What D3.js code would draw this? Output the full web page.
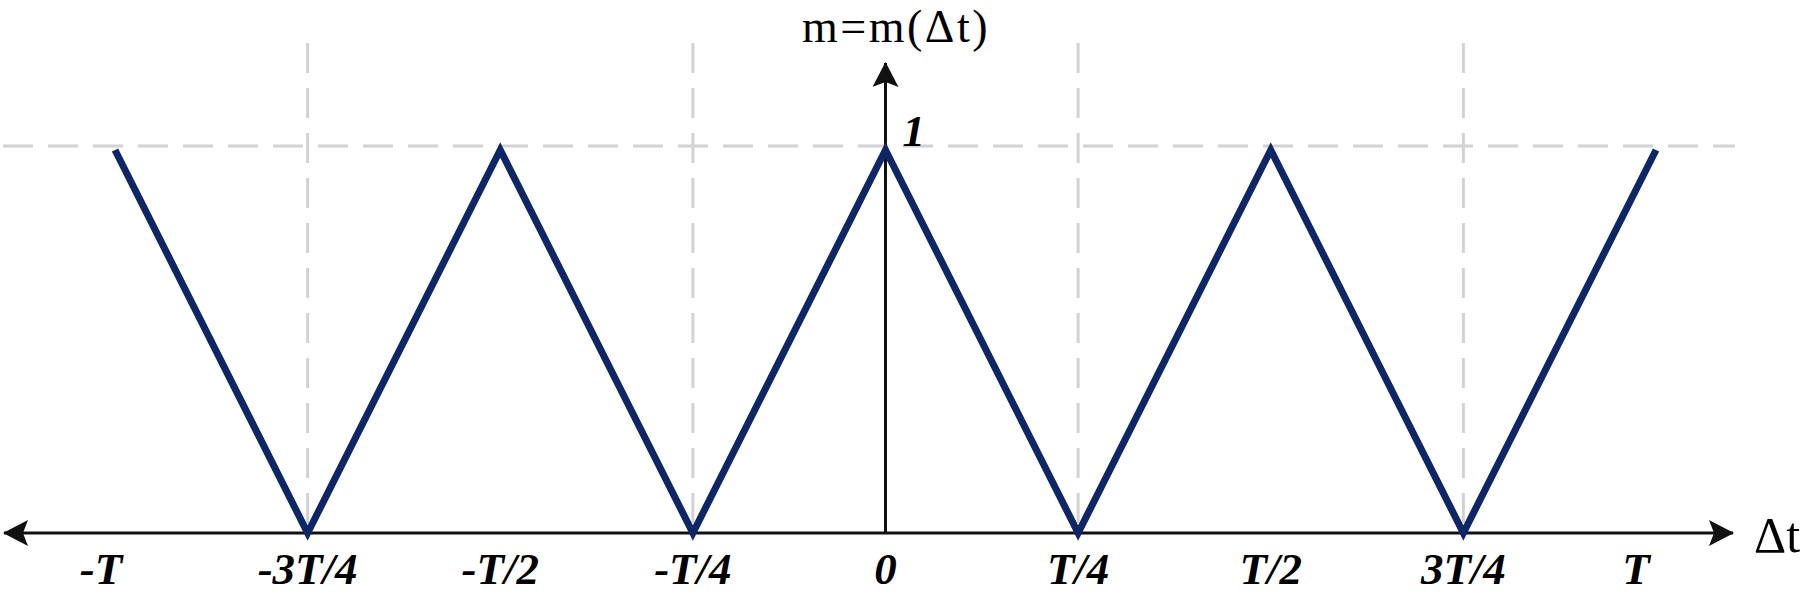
<!DOCTYPE html>
<html>
<head>
<meta charset="utf-8">
<script src="https://cdn.jsdelivr.net/npm/d3@7"></script>
<style>
  html, body { margin: 0; padding: 0; background: #fff; }
  svg { display: block; }
  .grid { stroke: #d2d2d2; stroke-width: 3; stroke-dasharray: 30 15; fill: none; }
  .axis { stroke: #111; stroke-width: 3; fill: none; }
  .wave { stroke: #0e2566; stroke-width: 7; fill: none; stroke-linejoin: miter; }
  .tick { font-family: "Liberation Serif", "Times New Roman", serif; font-weight: bold; font-style: italic; font-size: 45px; fill: #000; }
  .title { font-family: "Liberation Serif", "Times New Roman", serif; font-size: 50px; fill: #000; }
  .title.top { font-size: 46px; letter-spacing: 2.5px; }
</style>
</head>
<body>
<svg width="1808" height="594"></svg>
<script>
const width = 1808;
const height = 594;
const svg = d3.select("svg");

// data: quarter-period positions (in units of T) and the triangle wave m(dt)
const waveX = [-1, -0.75, -0.5, -0.25, 0, 0.25, 0.5, 0.75, 1];
const waveY = [1, 0, 1, 0, 1, 0, 1, 0, 1];
const tickValues = [-1, -0.75, -0.5, -0.25, 0, 0.25, 0.5, 0.75, 1];
const tickLabels = ["-T", "-3T/4", "-T/2", "-T/4", "0", "T/4", "T/2", "3T/4", "T"];
const gridX = [-0.75, -0.25, 0.25, 0.75];

const x = d3.scaleLinear().domain([-1, 1]).range([115, 1656]);
const y = d3.scaleLinear().domain([0, 1]).range([533, 150]);

// arrow heads
const defs = svg.append("defs");
defs.append("marker")
    .attr("id", "arrow")
    .attr("viewBox", "0 -13 25 26")
    .attr("refX", 24)
    .attr("refY", 0)
    .attr("markerWidth", 25)
    .attr("markerHeight", 26)
    .attr("markerUnits", "userSpaceOnUse")
    .attr("orient", "auto-start-reverse")
    .append("path")
    .attr("d", "M0,-13L25,0L0,13L5,0Z")
    .attr("fill", "#111");

// dashed guides
svg.append("line")
    .attr("class", "grid")
    .attr("x1", 3).attr("x2", 1735)
    .attr("y1", y(1) - 4).attr("y2", y(1) - 4);

svg.selectAll(".gridv")
    .data(gridX)
    .enter()
    .append("line")
    .attr("class", "grid")
    .attr("x1", d => x(d)).attr("x2", d => x(d))
    .attr("y1", 43).attr("y2", y(0));

// axes
svg.append("line")
    .attr("class", "axis")
    .attr("x1", 4).attr("x2", 1733)
    .attr("y1", y(0)).attr("y2", y(0))
    .attr("marker-start", "url(#arrow)")
    .attr("marker-end", "url(#arrow)");

svg.append("line")
    .attr("class", "axis")
    .attr("x1", x(0)).attr("x2", x(0))
    .attr("y1", y(0)).attr("y2", 63)
    .attr("marker-end", "url(#arrow)");

// the triangle wave
const line = d3.line()
    .x(d => x(d[0]))
    .y(d => y(d[1]));

svg.append("path")
    .datum(waveX.map((v, i) => [v, waveY[i]]))
    .attr("class", "wave")
    .attr("d", line);

// tick labels
svg.selectAll(".tick")
    .data(tickValues)
    .enter()
    .append("text")
    .attr("class", "tick")
    .attr("x", (d, i) => x(d) + (d === -1 ? -14 : d === 1 ? -20 : 0))
    .attr("y", 584)
    .attr("text-anchor", "middle")
    .text((d, i) => tickLabels[i]);

svg.append("text")
    .attr("class", "tick")
    .attr("x", x(0) + 17)
    .attr("y", y(1) - 4)
    .text("1");

// axis titles
svg.append("text")
    .attr("class", "title top")
    .attr("x", 896)
    .attr("y", 42)
    .attr("text-anchor", "middle")
    .text("m=m(\u0394t)");

svg.append("text")
    .attr("class", "title")
    .attr("x", 1754)
    .attr("y", 552)
    .text("\u0394t");
</script>
</body>
</html>
